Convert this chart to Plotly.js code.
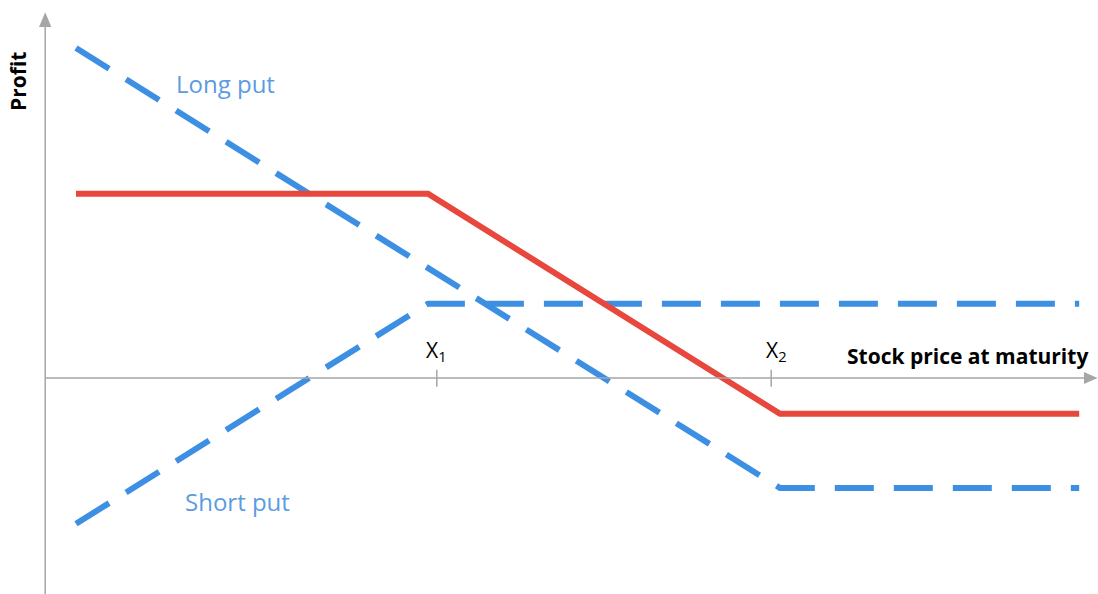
<!DOCTYPE html>
<html>
<head>
<meta charset="utf-8">
<script src="https://cdn.plot.ly/plotly-3.0.1.min.js"></script>
<style>html,body{margin:0;padding:0;background:#fff;}#chart{width:1098px;height:594px;}</style>
</head>
<body>
<div id="chart"></div>
<script>
// Stock price at maturity (arbitrary units), strikes X1 and X2
var strikeLabels = ['X<sub>1</sub>', 'X<sub>2</sub>'];
var strikes = [40, 80];
// Long put (strike X2)
var longPutX = [0, 80, 114];
var longPutY = [60, -20, -20];
// Short put (strike X1)
var shortPutX = [0, 40, 114];
var shortPutY = [-26.5, 13.5, 13.5];
// Combined bear spread profit
var spreadX = [0, 40, 80, 114];
var spreadY = [33.5, 33.5, -6.5, -6.5];
// Text labels
var seriesLabels = ['Long put', 'Short put'];
var labelPos = [[17, 53.5], [18.3, -22.5]];
var axisTitles = ['Stock price at maturity', 'Profit'];

var blue = '#3d8fe3';
var red = '#e8473d';
var gray = '#a6a6a6';
var font = 'Open Sans, Liberation Sans, sans-serif';

var XR = [-8.636, 116.136], YR = [-39.27, 68.727];
var axX = -3.5; // y-axis position in x units

var traces = [
  {x: longPutX, y: longPutY, mode: 'lines', line: {color: blue, width: 6, dash: '39px,20px'}, hoverinfo: 'skip'},
  {x: shortPutX, y: shortPutY, mode: 'lines', line: {color: blue, width: 6, dash: '39px,20px'}, hoverinfo: 'skip'},
  {x: spreadX, y: spreadY, mode: 'lines', line: {color: red, width: 6}, hoverinfo: 'skip'}
];

var shapes = [
  // x axis line + arrowhead
  {type: 'line', xref: 'x', yref: 'y', x0: axX, x1: XR[1] - 1.4, y0: 0, y1: 0, line: {color: gray, width: 1.5}},
  {type: 'path', xref: 'x', yref: 'y', path: 'M ' + (XR[1] - 0.05) + ' 0 L ' + (XR[1] - 1.6) + ' 1.1 L ' + (XR[1] - 1.6) + ' -1.1 Z',
   fillcolor: gray, line: {width: 0}},
  // y axis line + arrowhead
  {type: 'line', xref: 'x', yref: 'y', x0: axX, x1: axX, y0: YR[0], y1: 64.2, line: {color: gray, width: 1.5}},
  {type: 'path', xref: 'x', yref: 'y', path: 'M ' + axX + ' 66.5 L ' + (axX - 0.7) + ' 63.8 L ' + (axX + 0.7) + ' 63.8 Z',
   fillcolor: gray, line: {width: 0}}
];
strikes.forEach(function (s, i) {
  var xx = s + (i === 0 ? 1 : -1);
  shapes.push({type: 'line', xref: 'x', yref: 'y', x0: xx, x1: xx, y0: -1.6, y1: 1.5, line: {color: gray, width: 1.5}});
});

var annotations = [
  {x: 1090 / 1098, y: 1 - 356 / 594, xref: 'paper', yref: 'paper', xanchor: 'right', yanchor: 'middle', text: '<b>' + axisTitles[0] + '</b>',
   showarrow: false, font: {family: font, size: 21, color: '#000'}},
  {x: 18 / 1098, y: 1 - 82 / 594, xref: 'paper', yref: 'paper', xanchor: 'center', yanchor: 'middle', text: '<b>' + axisTitles[1] + '</b>',
   showarrow: false, textangle: -90, font: {family: font, size: 21, color: '#000'}}
];
strikes.forEach(function (s, i) {
  annotations.push({x: s + (i === 0 ? 1.0 : -0.4), y: 5, xref: 'x', yref: 'y', xanchor: 'center', yanchor: 'middle',
    text: strikeLabels[i], showarrow: false, font: {family: font, size: 21, color: '#000'}});
});
seriesLabels.forEach(function (t, i) {
  annotations.push({x: labelPos[i][0], y: labelPos[i][1], xref: 'x', yref: 'y', xanchor: 'center', yanchor: 'middle',
    text: t, showarrow: false, font: {family: font, size: 24, color: '#5b9be2'}});
});

var layout = {
  width: 1098, height: 594,
  margin: {l: 0, r: 0, t: 0, b: 0},
  paper_bgcolor: '#fff', plot_bgcolor: '#fff',
  showlegend: false,
  xaxis: {range: XR, visible: false, fixedrange: true},
  yaxis: {range: YR, visible: false, fixedrange: true},
  shapes: shapes,
  annotations: annotations
};

Plotly.newPlot('chart', traces, layout, {staticPlot: true, displayModeBar: false});
</script>
</body>
</html>
